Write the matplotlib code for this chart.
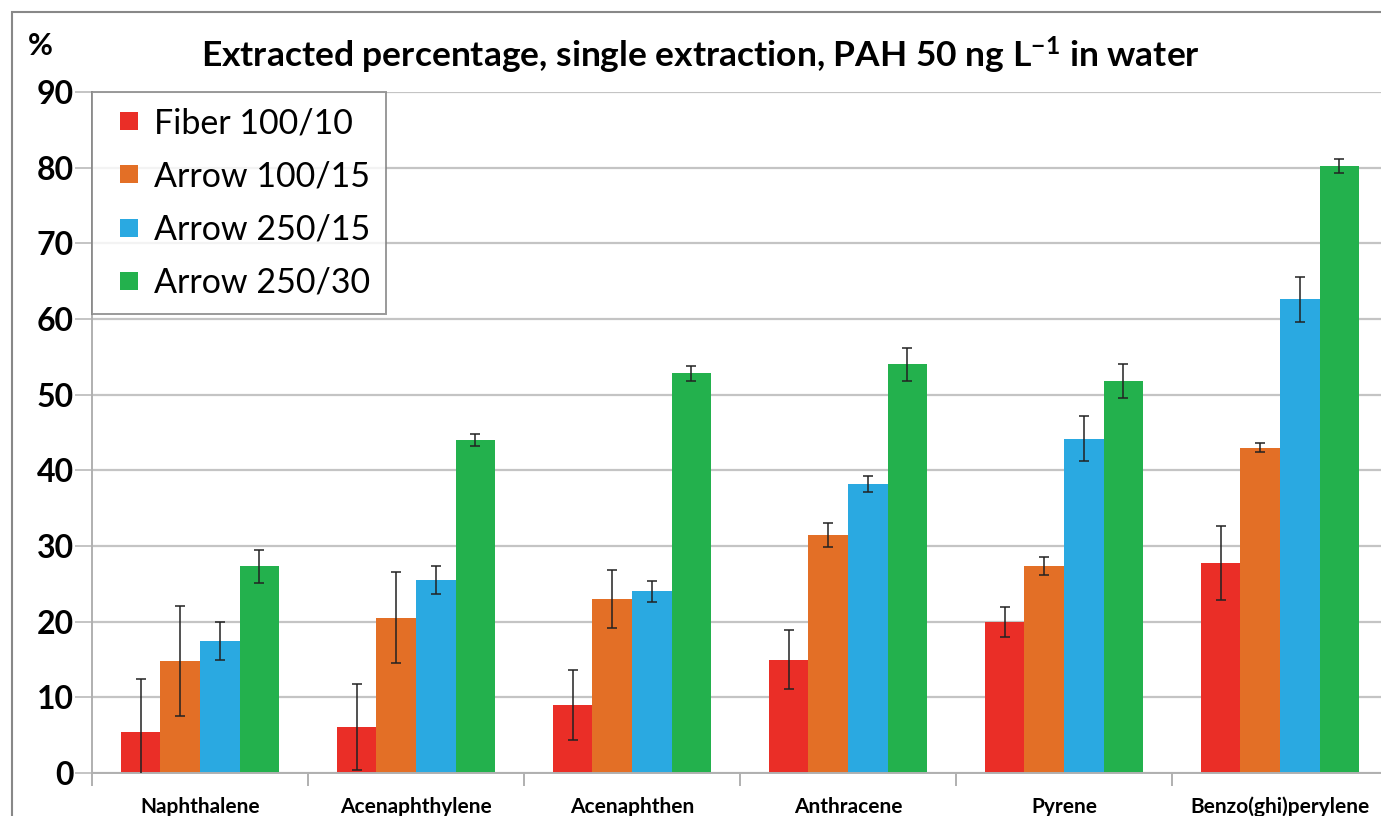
import matplotlib
matplotlib.use("Agg")
import matplotlib.pyplot as plt
import numpy as np
from matplotlib.patches import Rectangle
from matplotlib.lines import Line2D

categories = ["Naphthalene", "Acenaphthylene", "Acenaphthen", "Anthracene", "Pyrene", "Benzo(ghi)perylene"]
series = ["Fiber 100/10", "Arrow 100/15", "Arrow 250/15", "Arrow 250/30"]
fiber_100_10 = [5.4, 6.1, 9.0, 15.0, 20.0, 27.7]
arrow_100_15 = [14.8, 20.5, 23.0, 31.5, 27.4, 43.0]
arrow_250_15 = [17.5, 25.5, 24.0, 38.2, 44.2, 62.6]
arrow_250_30 = [27.3, 44.0, 52.8, 54.0, 51.8, 80.2]
err_fiber_100_10 = [7.0, 5.7, 4.6, 3.9, 2.0, 4.9]
err_arrow_100_15 = [7.3, 6.0, 3.8, 1.6, 1.2, 0.6]
err_arrow_250_15 = [2.5, 1.9, 1.4, 1.0, 3.0, 3.0]
err_arrow_250_30 = [2.2, 0.8, 1.0, 2.2, 2.2, 0.9]
yticks = [0, 10, 20, 30, 40, 50, 60, 70, 80, 90]

values = [fiber_100_10, arrow_100_15, arrow_250_15, arrow_250_30]
errors = [err_fiber_100_10, err_arrow_100_15, err_arrow_250_15, err_arrow_250_30]
colors = ["#ea2e27", "#e36f26", "#2aa9e1", "#23b14d"]

plt.rcParams['font.family'] = ['Lato', 'DejaVu Sans']
plt.rcParams['mathtext.fontset'] = 'custom'
plt.rcParams['mathtext.rm'] = 'Lato:bold'
plt.rcParams['mathtext.bf'] = 'Lato:bold'
plt.rcParams['mathtext.default'] = 'rm'

fig = plt.figure(figsize=(13.81, 8.16), dpi=100)
ax = fig.add_axes([92/1381, 1-773/816, (1388-92)/1381, (773-92)/816])

x = np.arange(len(categories))
bw = 0.183
for i, (vals, errs, col, lab) in enumerate(zip(values, errors, colors, series)):
    pos = x + (i - 1.5) * bw
    ax.bar(pos, vals, width=bw, color=col, label=lab, zorder=2, linewidth=0)
    ax.errorbar(pos, vals, yerr=errs, fmt='none', ecolor='#222222', elinewidth=1.1,
                capsize=3.5, capthick=1.1, zorder=3)

ax.set_xlim(-0.5, len(categories) - 0.5)
ax.set_ylim(0, 90)
ax.set_yticks(yticks)
ax.set_yticklabels([str(t) for t in yticks], fontsize=23, fontweight='bold')
ax.yaxis.grid(True, color='#c4c4c4', linewidth=1.6, zorder=0)
ax.set_axisbelow(True)
ax.tick_params(axis='y', length=12, width=1.4, color='#c4c4c4', pad=1)

ax.set_xticks(x)
ax.set_xticklabels(categories, fontsize=15, fontweight='bold')
ax.set_xticks(np.arange(len(categories) + 1) - 0.5, minor=True)
ax.tick_params(axis='x', which='major', length=0, pad=17)
ax.tick_params(axis='x', which='minor', length=9, width=1.4, color='#b0b0b0')

for s in ['top', 'right']:
    ax.spines[s].set_visible(False)
ax.spines['left'].set_color('#b0b0b0')
ax.spines['left'].set_linewidth(1.4)
ax.spines['bottom'].set_color('#b0b0b0')
ax.spines['bottom'].set_linewidth(1.4)

handles = [Line2D([], [], linestyle='none', marker='s', markersize=13, markerfacecolor=c,
                  markeredgewidth=0) for c in colors]
leg = ax.legend(handles, series, loc='upper left', bbox_to_anchor=(0.0, 1.0), fontsize=24.5,
                frameon=True, fancybox=False, edgecolor='#808080', handlelength=1.3,
                handletextpad=0.08, labelspacing=0.62, borderpad=0.45, borderaxespad=0.0)
leg.get_frame().set_linewidth(1.4)

fig.text(701/1381, 1-55/816, r"Extracted percentage, single extraction, PAH 50 ng L$^{-1}$ in water",
         ha='center', va='center', fontsize=25.5, fontweight='bold')
fig.text(40/1381, 1-46/816, "%", ha='center', va='center', fontsize=22, fontweight='bold')

fig.patches.append(Rectangle((12/1381, -0.1), 1.2, 1 - 12/816 + 0.1, transform=fig.transFigure,
                             fill=False, edgecolor='#888888', linewidth=1.5))

fig.savefig("out.png", dpi=100)
